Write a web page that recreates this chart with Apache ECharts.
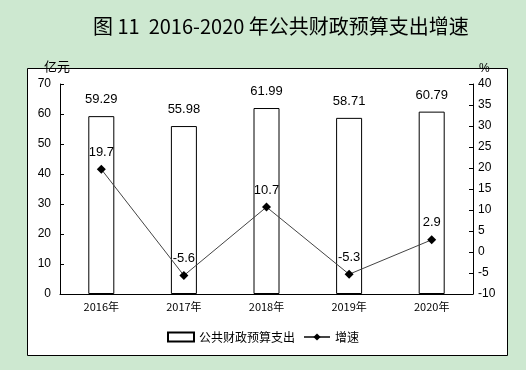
<!DOCTYPE html>
<html><head><meta charset="utf-8">
<script src="https://cdn.jsdelivr.net/npm/echarts@6/dist/echarts.min.js"></script>
<style>html,body{margin:0;padding:0;background:#cde8d0;}#c{width:526px;height:370px;}</style>
</head><body><div id="c"></div>
<script>
const categories = ['2016年','2017年','2018年','2019年','2020年'];
const spending = [59.29, 55.98, 61.99, 58.71, 60.79];
const growth = [19.7, -5.6, 10.7, -5.3, 2.9];
const leftTicks = {min: 0, max: 70, interval: 10};
const rightTicks = {min: -10, max: 40, interval: 5};

const chart = echarts.init(document.getElementById('c'));
const F = 'Liberation Sans, Arial, sans-serif';
const CJK = 'Noto Sans CJK SC';
chart.setOption({
  backgroundColor: '#cde8d0',
  animation: false,
  title: {
    text: '图 11  2016-2020 年公共财政预算支出增速',
    left: 88, top: 11,
    textStyle: {fontFamily: CJK, fontSize: 20, fontWeight: 'normal', color: '#000'}
  },
  graphic: [{
    type: 'rect', z: -1,
    shape: {x: 27.5, y: 68.5, width: 480, height: 287},
    style: {fill: '#fff', stroke: '#000', lineWidth: 1}
  }, {
    type: 'text', left: 44, top: 60, z: 10,
    style: {text: '亿元', font: '13px "Noto Sans CJK SC"', fill: '#000'}
  }, {
    type: 'text', left: 479, top: 63, z: 10,
    style: {text: '%', font: '12px "Liberation Sans"', fill: '#000'}
  }],
  grid: {left: 60, right: 53, top: 84, bottom: 76},
  legend: {
    bottom: 22, left: 'center',
    itemWidth: 26, itemHeight: 9, itemGap: 8,
    textStyle: {fontFamily: CJK, fontSize: 12, color: '#000'},
    data: [{name: '公共财政预算支出', icon: 'rect'}, {name: '增速'}]
  },
  xAxis: {
    type: 'category', data: categories,
    axisLine: {lineStyle: {color: '#000'}},
    axisTick: {inside: true, length: 4, lineStyle: {color: '#000'}},
    axisLabel: {fontFamily: CJK, fontSize: 11, color: '#000', margin: 7}
  },
  yAxis: [{
    type: 'value', min: leftTicks.min, max: leftTicks.max, interval: leftTicks.interval,
    axisLine: {show: true, lineStyle: {color: '#000'}},
    axisTick: {show: true, inside: true, length: 4, lineStyle: {color: '#000'}},
    axisLabel: {fontFamily: F, fontSize: 12, color: '#000', margin: 9},
    splitLine: {show: false}
  }, {
    type: 'value', min: rightTicks.min, max: rightTicks.max, interval: rightTicks.interval,
    axisLine: {show: true, lineStyle: {color: '#000'}},
    axisTick: {show: true, inside: true, length: 4, lineStyle: {color: '#000'}},
    axisLabel: {fontFamily: F, fontSize: 12, color: '#000', margin: 5},
    splitLine: {show: false}
  }],
  series: [{
    name: '公共财政预算支出', type: 'bar', data: spending, barWidth: 26,
    itemStyle: {color: '#fff', borderColor: '#000', borderWidth: 1},
    label: {show: true, position: 'top', distance: 10, fontFamily: F, fontSize: 13, color: '#000'}
  }, {
    name: '增速', type: 'line', yAxisIndex: 1, data: growth,
    symbol: 'diamond', symbolSize: 9,
    lineStyle: {color: '#444', width: 1},
    itemStyle: {color: '#000'},
    label: {show: true, position: 'top', distance: 6, fontFamily: F, fontSize: 13, color: '#000'}
  }]
});
</script></body></html>
